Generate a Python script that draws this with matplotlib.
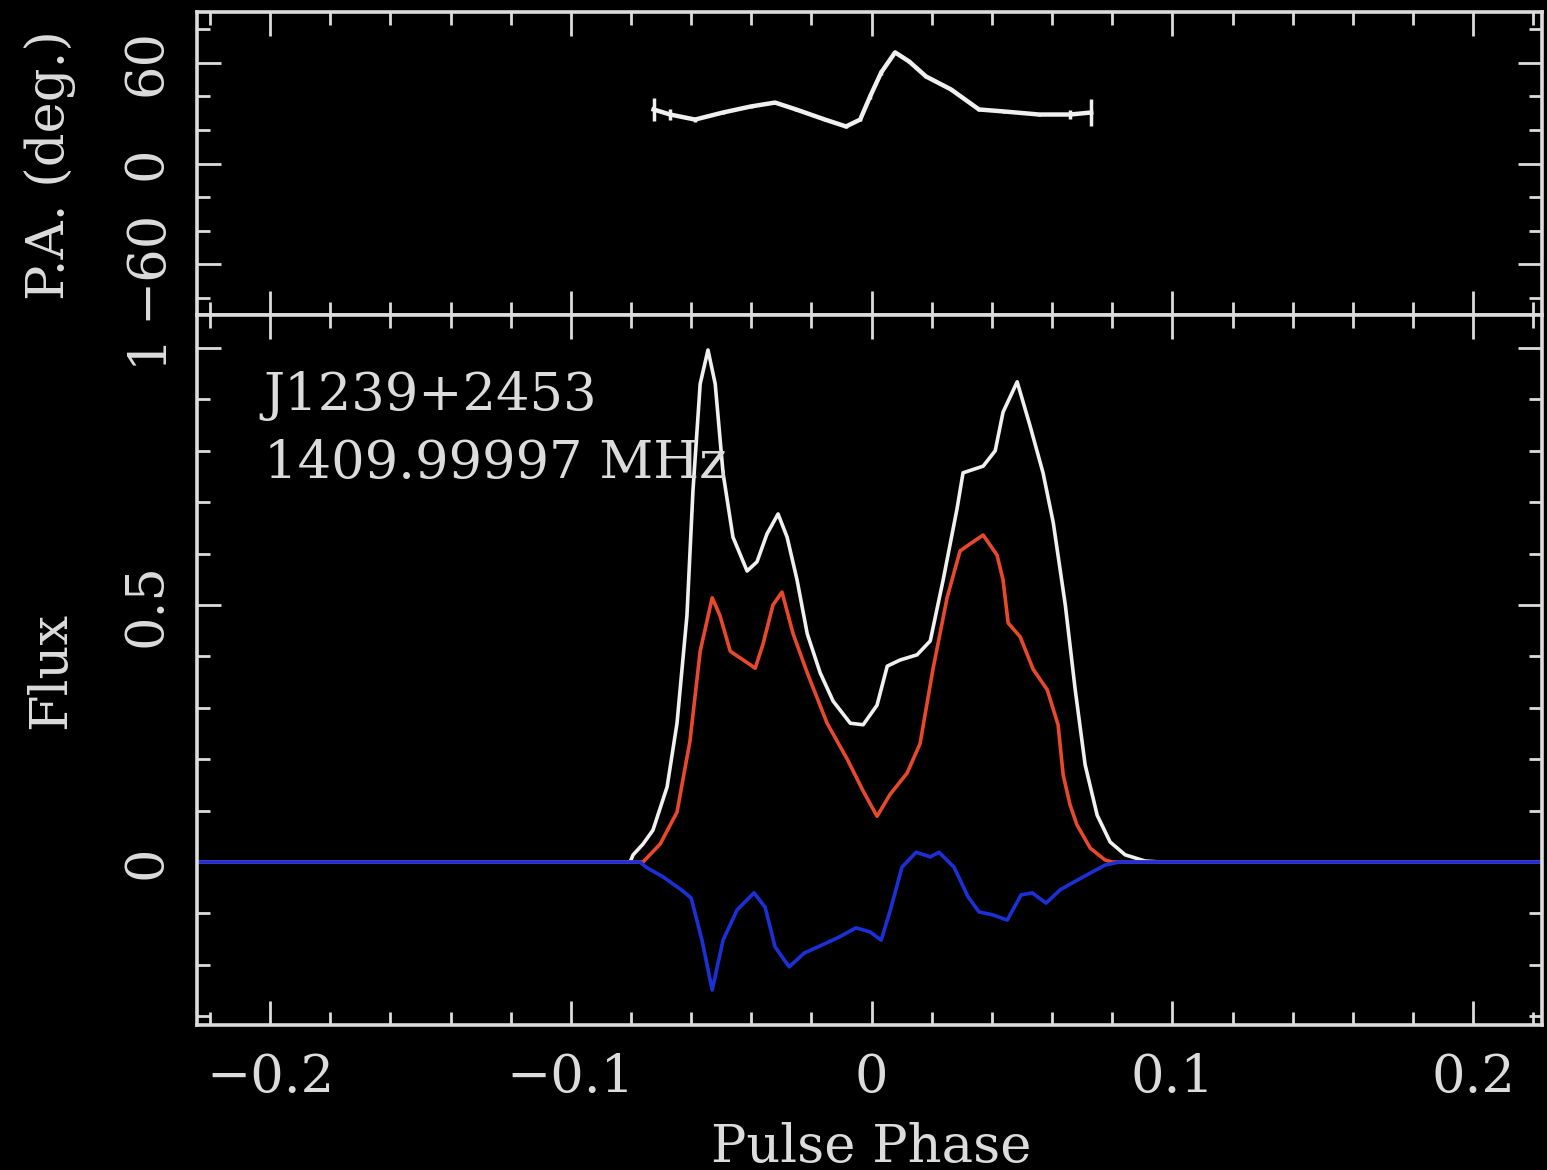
import matplotlib.pyplot as plt
from matplotlib.ticker import MultipleLocator, FixedLocator, FixedFormatter

# Pulse profile of J1239+2453: total intensity, linear and circular polarisation
psr_name = "J1239+2453"
freq_label = "1409.99997 MHz"

phase_I = [-0.2243, -0.0803, -0.0793, -0.0760, -0.0727, -0.0680, -0.0647, -0.0614, -0.0594,
           -0.0570, -0.0544, -0.0520, -0.0494, -0.0461, -0.0414, -0.0381, -0.0348, -0.0311,
           -0.0281, -0.0248, -0.0214, -0.0171, -0.0128, -0.0071, -0.0028, 0.0018, 0.0052,
           0.0095, 0.0151, 0.0195, 0.0238, 0.0284, 0.0304, 0.0371, 0.0411, 0.0437, 0.0484,
           0.0527, 0.0570, 0.0604, 0.0644, 0.0677, 0.0710, 0.0750, 0.0793, 0.0843, 0.0909,
           0.0960, 0.2229]
flux_I = [0.0, 0.0, 0.014, 0.035, 0.062, 0.146, 0.270, 0.479, 0.722,
          0.930, 0.996, 0.930, 0.757, 0.632, 0.566, 0.584, 0.638, 0.677,
          0.632, 0.549, 0.444, 0.368, 0.313, 0.270, 0.267, 0.305, 0.381,
          0.393, 0.403, 0.430, 0.549, 0.687, 0.757, 0.770, 0.800, 0.875, 0.934,
          0.848, 0.757, 0.660, 0.500, 0.335, 0.189, 0.091, 0.039, 0.014, 0.002,
          0.0, 0.0]

phase_L = [-0.2243, -0.0760, -0.0703, -0.0647, -0.0604, -0.0570, -0.0530, -0.0504, -0.0470,
           -0.0427, -0.0387, -0.0361, -0.0328, -0.0298, -0.0261, -0.0214, -0.0148, -0.0081,
           -0.0028, 0.0018, 0.0062, 0.0118, 0.0161, 0.0204, 0.0251, 0.0294, 0.0328, 0.0371,
           0.0417, 0.0437, 0.0454, 0.0494, 0.0537, 0.0584, 0.0620, 0.0637, 0.0660, 0.0683,
           0.0727, 0.0776, 0.0800, 0.2229]
flux_L = [0.0, 0.0, 0.035, 0.097, 0.235, 0.410, 0.514, 0.479, 0.410,
          0.393, 0.377, 0.424, 0.500, 0.525, 0.444, 0.368, 0.270, 0.200,
          0.138, 0.089, 0.132, 0.173, 0.230, 0.375, 0.514, 0.605, 0.619, 0.636,
          0.597, 0.549, 0.465, 0.438, 0.375, 0.335, 0.267, 0.169, 0.111, 0.072,
          0.027, 0.004, 0.0, 0.0]

phase_V = [-0.2243, -0.0770, -0.0750, -0.0693, -0.0633, -0.0600, -0.0564, -0.0530, -0.0494,
           -0.0447, -0.0391, -0.0354, -0.0321, -0.0274, -0.0224, -0.0178, -0.0108, -0.0052,
           -0.0005, 0.0032, 0.0065, 0.0101, 0.0148, 0.0195, 0.0224, 0.0274, 0.0321, 0.0357,
           0.0404, 0.0451, 0.0497, 0.0534, 0.0580, 0.0627, 0.0697, 0.0776, 0.0823, 0.2229]
flux_V = [0.0, 0.0, -0.010, -0.029, -0.054, -0.070, -0.152, -0.249, -0.152,
          -0.093, -0.060, -0.088, -0.165, -0.204, -0.177, -0.165, -0.146, -0.128,
          -0.136, -0.152, -0.088, -0.010, 0.019, 0.010, 0.019, -0.010, -0.068, -0.097,
          -0.103, -0.113, -0.064, -0.060, -0.080, -0.054, -0.031, -0.006, 0.0, 0.0]

phase_PA = [-0.0725, -0.0670, -0.0587, -0.0494, -0.0401, -0.0321, -0.0251, -0.0155, -0.0085,
            -0.0038, -0.0005, 0.0032, 0.0078, 0.0125, 0.0181, 0.0264, 0.0357, 0.0441,
            0.0557, 0.0660, 0.0730]
pa_deg = [32.1, 29.1, 26.1, 30.3, 33.9, 36.2, 32.1, 26.1, 22.0,
          26.1, 39.8, 54.1, 66.0, 60.6, 51.7, 44.0, 32.1, 30.9,
          29.1, 29.1, 30.3]
pa_err = [7.0, 3.0, 1.5, 1.0, 1.0, 1.0, 1.0, 1.0, 1.0,
          1.0, 1.5, 1.5, 1.0, 1.0, 1.0, 1.0, 1.0, 1.0,
          1.0, 2.5, 8.0]

x_ticks = [-0.2, -0.1, 0.0, 0.1, 0.2]
x_ticklabels = ["\u22120.2", "\u22120.1", "0", "0.1", "0.2"]
pa_ticks = [-60, 0, 60]
pa_ticklabels = ["\u221260", "0", "60"]
flux_ticks = [0.0, 0.5, 1.0]
flux_ticklabels = ["0", "0.5", "1"]

fg = "#dcdcdc"
col_I = "#f0f0f0"
col_L = "#e8482c"
col_V = "#1c30d8"

plt.rcParams['font.family'] = ['DejaVu Serif']
plt.rcParams['font.size'] = 38

fig = plt.figure(figsize=(15.47, 11.70), dpi=100, facecolor="black")
ax_pa = fig.add_axes([197 / 1547, 1 - 315 / 1170, 1345 / 1547, 303 / 1170])
ax_fl = fig.add_axes([197 / 1547, 1 - 1025 / 1170, 1345 / 1547, 710 / 1170])


def style_axes(ax):
    ax.set_facecolor("black")
    for s in ax.spines.values():
        s.set_color(fg)
        s.set_linewidth(2.6)
    ax.tick_params(which="both", direction="in", top=True, right=True,
                   colors=fg, width=2.0)
    ax.tick_params(which="major", length=17)
    ax.tick_params(which="minor", length=9.5)
    ax.set_xlim(-0.2243, 0.2229)
    ax.xaxis.set_major_locator(FixedLocator(x_ticks))
    ax.xaxis.set_minor_locator(MultipleLocator(0.02))


style_axes(ax_pa)
style_axes(ax_fl)

# position angle panel
ax_pa.errorbar(phase_PA, pa_deg, yerr=pa_err, color=col_I, lw=3.2, elinewidth=2.5,
               capsize=0)
ax_pa.set_ylim(-90, 90)
ax_pa.yaxis.set_major_locator(FixedLocator(pa_ticks))
ax_pa.yaxis.set_major_formatter(FixedFormatter(pa_ticklabels))
ax_pa.yaxis.set_minor_locator(MultipleLocator(20))
ax_pa.tick_params(axis="x", labelbottom=False)

# flux panel
ax_fl.plot(phase_I, flux_I, color=col_I, lw=2.6)
ax_fl.plot(phase_L, flux_L, color=col_L, lw=2.6)
ax_fl.plot(phase_V, flux_V, color=col_V, lw=2.6)
ax_fl.set_ylim(-0.317, 1.064)
ax_fl.yaxis.set_major_locator(FixedLocator(flux_ticks))
ax_fl.yaxis.set_major_formatter(FixedFormatter(flux_ticklabels))
ax_fl.yaxis.set_minor_locator(MultipleLocator(0.1))
ax_fl.xaxis.set_major_formatter(FixedFormatter(x_ticklabels))

# tick labels: vertical on the y axes, anchored on the baseline
for ax in (ax_pa, ax_fl):
    ax.tick_params(axis="y", pad=26.5)
    for t in ax.yaxis.get_major_ticks():
        t.label1.set_rotation(90)
        t.label1.set_rotation_mode("anchor")
        t.label1.set_ha("center")
        t.label1.set_va("baseline")
        t.label1.set_color(fg)
ax_fl.tick_params(axis="x", pad=48)
for t in ax_fl.xaxis.get_major_ticks():
    t.label1.set_va("baseline")
    t.label1.set_color(fg)

ax_fl.text(-0.2021, 0.879, psr_name, color=fg, ha="left", va="baseline")
ax_fl.text(-0.2021, 0.747, freq_label, color=fg, ha="left", va="baseline")

fig.text(64 / 1547, 1 - 165 / 1170, "P.A. (deg.)", color=fg, rotation=90,
         rotation_mode="anchor", ha="center", va="baseline")
fig.text(65 / 1547, 1 - 670 / 1170, "Flux", color=fg, rotation=90,
         rotation_mode="anchor", ha="center", va="baseline")
fig.text(871 / 1547, 1 - 1162 / 1170, "Pulse Phase", color=fg,
         ha="center", va="baseline")

fig.savefig("out.png", dpi=100, facecolor="black")
